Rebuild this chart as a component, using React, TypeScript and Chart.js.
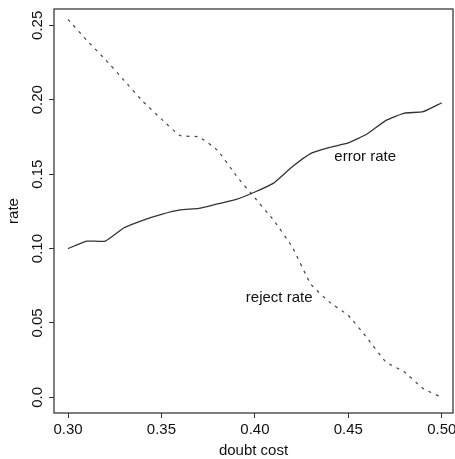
import React, { useEffect, useRef } from "react";
import { Chart, registerables } from "chart.js";

Chart.register(...registerables);

const doubtCost = [0.30, 0.31, 0.32, 0.33, 0.34, 0.35, 0.36, 0.37, 0.38, 0.39, 0.40, 0.41, 0.42, 0.43, 0.44, 0.45, 0.46, 0.47, 0.48, 0.49, 0.50];
const errorRate = [0.100, 0.105, 0.105, 0.114, 0.119, 0.123, 0.126, 0.127, 0.130, 0.133, 0.138, 0.144, 0.155, 0.164, 0.168, 0.171, 0.177, 0.186, 0.191, 0.192, 0.198];
const rejectRate = [0.254, 0.240, 0.227, 0.213, 0.199, 0.187, 0.176, 0.175, 0.166, 0.149, 0.134, 0.119, 0.101, 0.076, 0.064, 0.055, 0.040, 0.024, 0.017, 0.006, 0.000];

const xTickValues = [0.30, 0.35, 0.40, 0.45, 0.50];
const xTickLabels = ["0.30", "0.35", "0.40", "0.45", "0.50"];
const yTickValues = [0, 0.05, 0.10, 0.15, 0.20, 0.25];
const yTickLabels = ["0.0", "0.05", "0.10", "0.15", "0.20", "0.25"];

const xTitle = "doubt cost";
const yTitle = "rate";
const errorLabel = "error rate";
const errorLabelAt = [0.459, 0.1615];
const rejectLabel = "reject rate";
const rejectLabelAt = [0.413, 0.067];

const FONT = '15px "Liberation Sans", Arial, sans-serif';
const INK = "#111111";

const rPlot = {
  id: "rPlot",
  afterDraw(chart: any) {
    const { ctx, chartArea, scales } = chart;
    const xs = scales.x;
    const ys = scales.y;
    ctx.save();
    ctx.strokeStyle = "#3a3a3a";
    ctx.lineWidth = 1.3;
    ctx.strokeRect(chartArea.left, chartArea.top, chartArea.right - chartArea.left, chartArea.bottom - chartArea.top);

    ctx.fillStyle = INK;
    ctx.font = FONT;
    ctx.textAlign = "center";
    ctx.textBaseline = "middle";
    xTickValues.forEach((v, i) => {
      ctx.fillText(xTickLabels[i], xs.getPixelForValue(v), chartArea.bottom + 17);
    });
    ctx.fillText(xTitle, (chartArea.left + chartArea.right) / 2, chartArea.bottom + 38);

    yTickValues.forEach((v, i) => {
      ctx.save();
      ctx.translate(chartArea.left - 16, ys.getPixelForValue(v));
      ctx.rotate(-Math.PI / 2);
      ctx.fillText(yTickLabels[i], 0, 0);
      ctx.restore();
    });
    ctx.save();
    ctx.translate(chartArea.left - 40, (chartArea.top + chartArea.bottom) / 2);
    ctx.rotate(-Math.PI / 2);
    ctx.fillText(yTitle, 0, 0);
    ctx.restore();

    ctx.fillText(errorLabel, xs.getPixelForValue(errorLabelAt[0]), ys.getPixelForValue(errorLabelAt[1]));
    ctx.fillText(rejectLabel, xs.getPixelForValue(rejectLabelAt[0]), ys.getPixelForValue(rejectLabelAt[1]));
    ctx.restore();
  },
};

export default function App() {
  const ref = useRef<HTMLCanvasElement | null>(null);
  useEffect(() => {
    document.body.style.margin = "0";
    const canvas = ref.current;
    if (!canvas) return;
    const chart = new Chart(canvas, {
      type: "line",
      data: {
        datasets: [
          {
            label: "error rate",
            data: doubtCost.map((x, i) => ({ x, y: errorRate[i] })),
            borderColor: "#333333",
            borderWidth: 1.3,
            pointRadius: 0,
            tension: 0.15,
            fill: false,
          },
          {
            label: "reject rate",
            data: doubtCost.map((x, i) => ({ x, y: rejectRate[i] })),
            borderColor: "#444444",
            borderWidth: 1.2,
            borderDash: [3, 5],
            pointRadius: 0,
            tension: 0.15,
            fill: false,
          },
        ],
      },
      options: {
        animation: false,
        responsive: false,
        maintainAspectRatio: false,
        layout: { padding: { top: 9, right: 2, left: 0, bottom: 0 } },
        plugins: { legend: { display: false }, tooltip: { enabled: false } },
        scales: {
          x: {
            type: "linear",
            min: 0.2925,
            max: 0.506,
            afterBuildTicks: (s: any) => {
              s.ticks = xTickValues.map((v) => ({ value: v }));
            },
            afterFit: (s: any) => {
              s.height = 46;
            },
            ticks: { display: false },
            border: { display: false },
            grid: { drawOnChartArea: false, drawTicks: true, tickLength: 5, color: "#333", lineWidth: 1 },
          },
          y: {
            type: "linear",
            min: -0.0105,
            max: 0.261,
            afterBuildTicks: (s: any) => {
              s.ticks = yTickValues.map((v) => ({ value: v }));
            },
            afterFit: (s: any) => {
              s.width = 54;
            },
            ticks: { display: false },
            border: { display: false },
            grid: { drawOnChartArea: false, drawTicks: true, tickLength: 5, color: "#333", lineWidth: 1 },
          },
        },
      },
      plugins: [rPlot],
    } as any);
    return () => chart.destroy();
  }, []);
  return (
    <div style={{ width: 455, height: 459, background: "#fff" }}>
      <canvas ref={ref} width={455} height={459} style={{ display: "block" }} />
    </div>
  );
}
